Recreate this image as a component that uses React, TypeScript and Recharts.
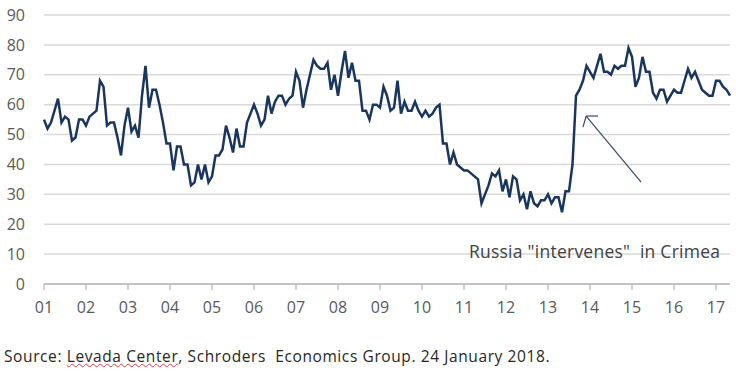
import React from "react";
import {
  LineChart,
  Line,
  XAxis,
  YAxis,
  CartesianGrid,
  ReferenceLine,
  ReferenceDot,
} from "recharts";

// monthly approval readings, Jan 2001 onwards
const approval = [
  55, 52, 54, 58, 62, 54, 56, 55, 48, 49, 55, 55,
  53, 56, 57, 58, 68, 66, 53, 54, 54, 49, 43, 53,
  59, 51, 53, 49, 63, 73, 59, 65, 65, 60, 54, 47,
  47, 38, 46, 46, 40, 40, 33, 34, 40, 35, 40, 34,
  36, 43, 43, 45, 53, 49, 44, 52, 46, 46, 54, 57,
  60, 57, 53, 55, 63, 57, 61, 63, 63, 60, 62, 63,
  71, 68, 59, 65, 70, 75, 73, 72, 72, 74, 65, 70,
  63, 71, 78, 69, 74, 68, 68, 58, 58, 55, 60, 60,
  59, 66, 63, 58, 59, 68, 57, 61, 58, 58, 61, 58,
  56, 58, 56, 57, 59, 60, 47, 47, 40, 44, 40, 39,
  38, 38, 37, 36, 35, 27, 30, 33, 37, 36, 38, 31,
  35, 29, 36, 35, 28, 30, 25, 31, 27, 26, 28, 28,
  30, 27, 29, 29, 24, 31, 31, 40, 63, 65, 68, 73,
  71, 69, 73, 77, 71, 71, 70, 73, 72, 73, 73, 79,
  76, 66, 69, 76, 71, 71, 64, 62, 65, 65, 61, 63,
  65, 64, 64, 68, 72, 69, 71, 68, 65, 64, 63, 63,
  68, 68, 66, 65, 63,
];

const yearLabels = ["01", "02", "03", "04", "05", "06", "07", "08", "09", "10", "11", "12", "13", "14", "15", "16", "17"];
const yTicks = [0, 10, 20, 30, 40, 50, 60, 70, 80, 90];

// annotation: arrow pointing at the jump (month index, value)
const arrowTail = { m: 170.6, v: 34.1 };
const arrowTip = { m: 154.9, v: 56.2 };
const headA = { m: 158.3, v: 56.2 };
const headB = { m: 154.0, v: 52.5 };
const noteAt = { m: 157.3, v: 10.7 };
const noteText = 'Russia "intervenes"\u00a0 in Crimea';

const data = approval.map((v, i) => ({ m: i, value: v }));
const xTicks = yearLabels.map((_, i) => i * 12);

const font = "'Open Sans', 'Noto Sans', sans-serif";
const arrowColor = "#3a4a5c";

export default function App() {
  return (
    <div
      style={{
        position: "absolute",
        left: 0,
        top: 0,
        width: 736,
        height: 372,
        background: "#fff",
        fontFamily: font,
      }}
    >
      <LineChart
        width={736}
        height={320}
        data={data}
        margin={{ top: 15, right: 6, bottom: 6, left: 0 }}
      >
        <CartesianGrid vertical={false} stroke="#d9d9d9" strokeWidth={1.5} />
        <XAxis
          dataKey="m"
          type="number"
          domain={[0, 196]}
          ticks={xTicks}
          tickFormatter={(t: number) => yearLabels[t / 12]}
          height={30}
          stroke="#a6a6a6"
          tickSize={6}
          tickMargin={12}
          tick={{ fill: "#595959", fontSize: 16, fontFamily: font }}
          interval={0}
        />
        <YAxis
          domain={[0, 90]}
          ticks={yTicks}
          width={44}
          axisLine={false}
          tickLine={false}
          tickSize={0}
          tickMargin={19}
          tick={{ fill: "#595959", fontSize: 16, fontFamily: font }}
        />
        <ReferenceLine
          segment={[
            { x: arrowTail.m, y: arrowTail.v },
            { x: arrowTip.m, y: arrowTip.v },
          ]}
          stroke={arrowColor}
          strokeWidth={1.2}
        />
        <ReferenceLine
          segment={[
            { x: arrowTip.m, y: arrowTip.v },
            { x: headA.m, y: headA.v },
          ]}
          stroke={arrowColor}
          strokeWidth={1.2}
        />
        <ReferenceLine
          segment={[
            { x: arrowTip.m, y: arrowTip.v },
            { x: headB.m, y: headB.v },
          ]}
          stroke={arrowColor}
          strokeWidth={1.2}
        />
        <ReferenceDot
          x={noteAt.m}
          y={noteAt.v}
          r={0}
          stroke="none"
          fill="none"
          label={{
            value: noteText,
            position: "center",
            fill: "#404040",
            fontSize: 17.5,
            fontFamily: font,
            letterSpacing: 0.25,
          }}
        />
        <Line
          type="linear"
          dataKey="value"
          stroke="#1a355e"
          strokeWidth={2.5}
          dot={false}
          isAnimationActive={false}
        />
      </LineChart>
      <div
        style={{
          position: "absolute",
          left: 4,
          top: 345,
          fontSize: 15.5,
          letterSpacing: 0.6,
          color: "#262626",
          whiteSpace: "pre",
        }}
      >
        Source:{" "}
        <span style={{ textDecoration: "underline wavy #d04040", textDecorationThickness: 1 }}>
          Levada Center
        </span>
        , Schroders  Economics Group. 24 January 2018.
      </div>
    </div>
  );
}
